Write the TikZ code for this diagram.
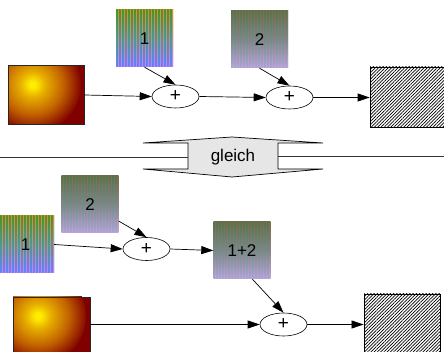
\documentclass[tikz,border=0pt]{standalone}
\usepackage{fontspec}
\setmainfont{Liberation Sans}
\usetikzlibrary{arrows.meta,patterns.meta,shapes.geometric}
\definecolor{sunyellow}{HTML}{FFEC00}
\definecolor{sungold}{HTML}{E8B000}
\definecolor{sunorange}{HTML}{C06000}
\definecolor{sundark}{HTML}{800000}
\definecolor{gleichgray}{HTML}{E6E6E6}
% image one stripes
\definecolor{oAt}{rgb}{0.82,0.58,0.20}
\definecolor{oAm}{rgb}{0.76,0.55,0.56}
\definecolor{oAb}{rgb}{0.80,0.50,1.00}
\definecolor{oBt}{rgb}{0.32,0.56,0.14}
\definecolor{oBm}{rgb}{0.30,0.60,0.56}
\definecolor{oBb}{rgb}{0.40,0.50,1.00}
% image two stripes
\definecolor{tAt}{rgb}{0.50,0.42,0.30}
\definecolor{tAm}{rgb}{0.56,0.50,0.55}
\definecolor{tAb}{rgb}{0.80,0.65,0.82}
\definecolor{tBt}{rgb}{0.34,0.45,0.30}
\definecolor{tBm}{rgb}{0.45,0.55,0.52}
\definecolor{tBb}{rgb}{0.66,0.65,0.86}
\pgfdeclareradialshading{sunball}{\pgfpoint{0bp}{0bp}}{color(0bp)=(sunyellow); color(1.5bp)=(sunyellow); color(6bp)=(sungold); color(15bp)=(sunorange); color(24bp)=(sundark); color(50bp)=(sundark)}
\tikzset{
  arr/.style={-{Triangle[length=12pt,width=8pt]}, line width=0.7pt},
  plusnode/.style={ellipse, draw, line width=0.6pt, minimum width=47pt, minimum height=23pt, inner sep=0pt, font=\fontsize{19}{19}\selectfont},
  hatchbox/.style={draw, line width=0.9pt, pattern={Lines[angle=45,distance=2.3pt,line width=0.7pt]}},
  sunbox/.style={draw=black!85, line width=0.9pt, fill=sundark, inner sep=0pt,
    path picture={\shade[shading=sunball] ([xshift=23pt,yshift=-19pt]path picture bounding box.north west) circle (50pt);}},
  img/.style n args={6}{minimum width=57pt, minimum height=57pt, inner sep=0pt, font=\fontsize{17}{17}\selectfont,
    path picture={
      \path[top color=#1, bottom color=#3, middle color=#2] (path picture bounding box.south west) rectangle (path picture bounding box.north east);
      \foreach \k in {0,...,20}{
        \path[top color=#4, bottom color=#6, middle color=#5] ([xshift=\k*3pt]path picture bounding box.south west) rectangle ([xshift=\k*3pt+1.5pt]path picture bounding box.north west);
      }
    }},
  imgone/.style={img={oAt}{oAm}{oAb}{oBt}{oBm}{oBb}},
  imgtwo/.style={img={tAt}{tAm}{tAb}{tBt}{tBm}{tBb}}
}
\begin{document}
\begin{tikzpicture}[x=1pt,y=-1pt]
\useasboundingbox (0,0) rectangle (444,352);
\clip (0,0) rectangle (444,352);
% ---- top row ----
\node[sunbox, minimum width=76pt, minimum height=59pt] (b1) at (46,95) {};
\node[imgone] (i1) at (144.5,38.5) {1};
\node[imgtwo] (i2) at (259.5,39.5) {2};
\node[plusnode] (p1) at (175.5,96.5) {+};
\node[plusnode] (p2) at (289.5,97.5) {+};
\node[hatchbox, minimum width=80pt, minimum height=60pt] (h1) at (410,97) {};
\draw[arr] (b1.east) -- (p1.west);
\draw[arr] (i1.south) -- (p1.north);
\draw[arr] (p1.east) -- (p2.west);
\draw[arr] (i2.south) -- (p2.north);
\draw[arr] (p2.east) -- (p2.east -| h1.west);
% ---- gleich ----
\draw[line width=0.7pt, fill=gleichgray]
  (143,143) -- (232,137) -- (323,143) -- (278,143) -- (278,169) -- (323,169)
  -- (232,177) -- (143,169) -- (188,169) -- (188,143) -- cycle;
\node[font=\fontsize{17}{17}\selectfont] (gl) at (233,157) {gleich};
\coordinate (gLa) at (0,157.5);
\coordinate (gLb) at (188,157.5);
\coordinate (gRa) at (278,156);
\coordinate (gRb) at (444,156);
\draw[line width=0.8pt, black!80] (gLa) -- (gLb);
\draw[line width=0.8pt, black!80] (gRa) -- (gRb);
% ---- bottom ----
\node[imgone] (i1b) at (25.5,244.5) {1};
\node[imgtwo] (i2b) at (90,204.5) {2};
\node[plusnode] (p3) at (146.5,249) {+};
\node[imgtwo] (i12) at (242,250.5) {1+2};
\node[plusnode] (p4) at (283.5,324.5) {+};
\node[sunbox, minimum width=77pt, minimum height=61pt] (b2) at (51.5,327.5) {};
\node[hatchbox, minimum width=76pt, minimum height=66pt] (h2) at (402,327) {};
\draw[arr] (i1b.east) -- (p3.west);
\draw[arr] (i2b.-30) -- (p3.north);
\draw[arr] (p3.east) -- (i12.west);
\draw[arr] (i12.-70) -- (p4.north);
\draw[arr] (b2.east |- p4) -- (p4.west);
\draw[arr] (p4.east) -- (p4.east -| h2.west);
\end{tikzpicture}
\end{document}
